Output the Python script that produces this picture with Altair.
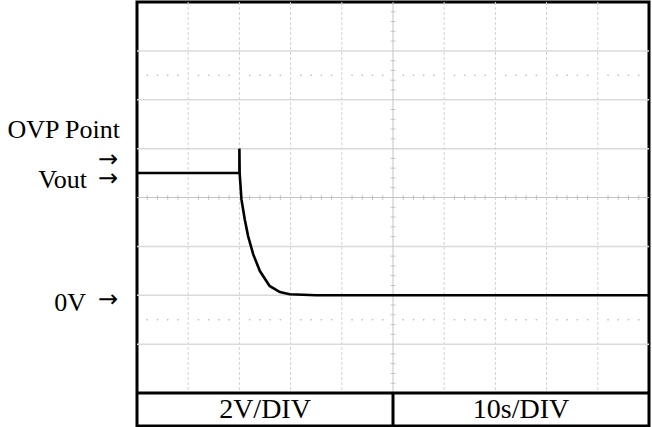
import altair as alt
import pandas as pd

# ---- data ----
time_s = [0, 20.0, 20.0, 20.05, 20.4, 21.05, 21.7, 22.7, 24.0, 25.9, 27.9, 29.8, 35, 100]
vout_v = [5.0, 5.0, 6.0, 5.0, 3.92, 3.1, 2.42, 1.67, 0.99, 0.38, 0.13, 0.04, 0.0, 0.0]

x_major = [10, 20, 30, 40, 60, 70, 80, 90]
y_major = [-2, 0, 2, 6, 8, 10]
x_minor = [v for v in range(0, 101, 2) if v % 10 != 0]
y_minor = [round(-4 + 0.4 * i, 2) for i in range(41) if (i % 5) != 0]
dot_rows = [9, -1]
center_x = [50]
center_y = [4]

label_text = ["OVP Point", "Vout", "0V"]
label_anchor = [6, 5, 0]
arrow_anchor = [6, 5, 0]

box_text = ["2V/DIV", "10s/DIV"]
box_pos = [25, 75]

FONT = "Liberation Serif"
PLOT_H = 391   # scope screen height inside the frame
TOTAL_H = 424  # screen + bottom info box

trace = pd.DataFrame({"t": time_s, "v": vout_v, "i": range(len(time_s))})
xs = alt.Scale(domain=[0, 100], nice=False, zero=False)
ys = alt.Scale(domain=[-4, 12], nice=False, zero=False, range=[PLOT_H, 0])

X = lambda f: alt.X(f, scale=xs, axis=None)
Y = lambda f: alt.Y(f, scale=ys, axis=None)

vgrid = alt.Chart(pd.DataFrame({"x": x_major})).mark_rule(
    color="#d2d2d2", strokeWidth=1, strokeDash=[3, 2]).encode(
    x=X("x:Q"), y=alt.value(0), y2=alt.value(PLOT_H))
hgrid = alt.Chart(pd.DataFrame({"y": y_major})).mark_rule(
    color="#dadada", strokeWidth=1.5).encode(y=Y("y:Q"))

cx = alt.Chart(pd.DataFrame({"x": center_x})).mark_rule(color="#c4c4c4", strokeWidth=1).encode(
    x=X("x:Q"), y=alt.value(0), y2=alt.value(PLOT_H))
cy = alt.Chart(pd.DataFrame({"y": center_y})).mark_rule(color="#c4c4c4", strokeWidth=1).encode(
    y=Y("y:Q"))

tx = alt.Chart(pd.DataFrame({"x": x_minor, "y": center_y * len(x_minor)})).mark_tick(
    orient="vertical", size=5, thickness=1, color="#b0b0b0").encode(x=X("x:Q"), y=Y("y:Q"))
ty = alt.Chart(pd.DataFrame({"y": y_minor, "x": center_x * len(y_minor)})).mark_tick(
    orient="horizontal", size=5, thickness=1, color="#b0b0b0").encode(x=X("x:Q"), y=Y("y:Q"))

dots_df = pd.DataFrame([{"x": x, "y": y} for y in dot_rows for x in x_minor])
dots = alt.Chart(dots_df).mark_square(size=2, color="#bdbdbd", opacity=1).encode(
    x=X("x:Q"), y=Y("y:Q"))

line = alt.Chart(trace).mark_line(color="black", strokeWidth=2.6).encode(
    x=X("t:Q"), y=Y("v:Q"), order="i:Q")

label_layers = []
for txt, anc, dy, xo in zip(label_text, label_anchor, [-11, 15, 16], [-17, -50, -51]):
    label_layers.append(
        alt.Chart(pd.DataFrame({"text": [txt], "y": [anc]})).mark_text(
            align="right", baseline="alphabetic", font=FONT, fontSize=26,
            color="black", dy=dy).encode(
            x=alt.value(xo), y=Y("y:Q"), text="text:N")
    )
for anc, dy in zip(arrow_anchor, [18, 13, 12]):
    label_layers.append(
        alt.Chart(pd.DataFrame({"text": ["\u2192"], "y": [anc]})).mark_text(
            align="right", baseline="alphabetic", font="DejaVu Sans", fontSize=24,
            color="black", dy=dy).encode(
            x=alt.value(-19), y=Y("y:Q"), text="text:N")
    )

# bottom info box
box_top = alt.Chart(pd.DataFrame({"x": [0]})).mark_rule(color="black", strokeWidth=3).encode(
    x=alt.value(0), x2=alt.value(512), y=alt.value(PLOT_H))
box_div = alt.Chart(pd.DataFrame({"x": center_x})).mark_rule(color="black", strokeWidth=3).encode(
    x=X("x:Q"), y=alt.value(PLOT_H), y2=alt.value(TOTAL_H))
box_txt = alt.Chart(pd.DataFrame({"x": box_pos, "text": box_text})).mark_text(
    font=FONT, fontSize=28, color="black", baseline="alphabetic").encode(
    x=X("x:Q"), y=alt.value(PLOT_H + 25), text="text:N")

chart = alt.layer(vgrid, hgrid, cx, cy, tx, ty, dots, line, *label_layers,
                  box_top, box_div, box_txt).properties(
    width=512, height=TOTAL_H,
    padding={"left": 137, "top": 2, "right": 3, "bottom": 1},
    autosize=alt.AutoSizeParams(type="none"),
    background="white",
).configure_view(stroke="black", strokeWidth=3)

chart.save("out.html", embed_options={"renderer": "svg", "actions": False})
